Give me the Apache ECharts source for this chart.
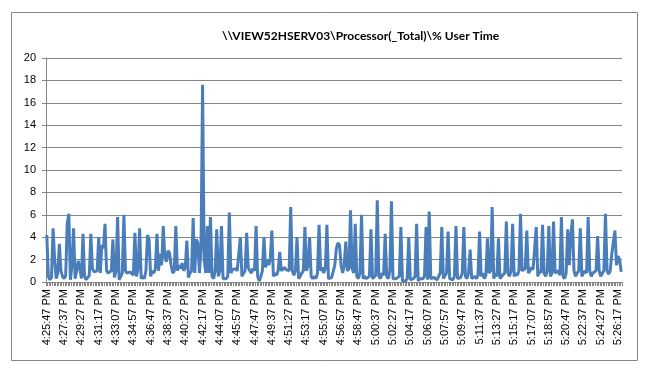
<!DOCTYPE html>
<html>
<head>
<meta charset="utf-8">
<script src="https://cdn.jsdelivr.net/npm/echarts@6/dist/echarts.min.js"></script>
<style>
  html, body { margin: 0; padding: 0; background: #fff; }
  #chart { width: 650px; height: 376px; }
</style>
</head>
<body>
<div id="chart"></div>
<script>
// samples taken every 10 seconds starting at 4:25:47 PM
var startTime = [16, 25, 47];
var stepSeconds = 10;

var userTime = [
  4.2, 0.5, 0.2, 0.4, 4.8, 2.0, 0.3, 0.8, 3.4, 1.0,
  0.5, 0.3, 0.6, 5.2, 6.1, 0.2, 1.5, 4.8, 0.3, 1.0,
  1.9, 1.2, 0.3, 4.3, 0.5, 0.2, 0.3, 0.6, 4.3, 1.2,
  0.9, 0.8, 1.0, 4.0, 0.8, 3.3, 3.0, 5.2, 1.0, 0.8,
  0.7, 1.0, 3.8, 0.4, 1.0, 5.8, 0.2, 0.3, 0.8, 6.0,
  1.0, 0.8, 0.7, 0.9, 1.0, 0.6, 4.4, 0.5, 1.2, 4.8,
  0.3, 0.5, 0.3, 1.0, 4.2, 3.8, 0.5, 1.0, 0.8, 1.2,
  4.3, 1.0, 2.5, 1.5, 5.0, 2.3, 1.8, 2.8, 2.6, 1.5,
  0.8, 1.0, 5.0, 1.0, 1.5, 1.2, 1.7, 1.0, 1.3, 3.7,
  0.4, 0.8, 1.0, 5.7, 0.8, 3.8, 3.5, 0.8, 3.0, 17.6,
  2.0, 0.8, 5.0, 0.8, 5.8, 0.5, 0.3, 1.0, 4.7, 0.5,
  1.0, 5.0, 0.3, 0.2, 0.3, 0.5, 6.2, 0.8, 1.1, 1.0,
  1.2, 1.0, 1.1, 4.0, 0.5, 0.8, 1.0, 4.4, 1.3, 1.0,
  0.8, 1.2, 1.0, 5.0, 0.5, 0.1, 0.5, 1.0, 4.0, 1.3,
  2.0, 1.5, 2.0, 4.6, 0.5, 0.8, 0.6, 1.0, 2.7, 1.0,
  0.9, 1.3, 1.1, 1.2, 1.0, 6.7, 1.0, 0.6, 1.0, 4.0,
  0.3, 0.5, 0.8, 1.0, 4.9, 1.0, 1.5, 4.0, 0.5, 0.3,
  0.5, 0.3, 0.8, 5.1, 1.0, 1.3, 0.8, 1.2, 5.1, 0.3,
  0.2, 0.4, 0.3, 1.5, 3.0, 3.5, 3.3, 1.5, 0.8, 1.5,
  3.6, 1.0, 1.2, 6.4, 1.2, 0.8, 5.2, 0.5, 0.3, 0.8,
  6.0, 0.3, 0.5, 0.3, 0.2, 0.5, 4.7, 0.3, 0.2, 0.6,
  7.3, 0.5, 0.3, 0.8, 0.6, 4.3, 0.5, 0.3, 1.0, 7.2,
  0.3, 0.2, 0.3, 0.2, 0.5, 4.9, 0.1, 0.2, 0.1, 0.3,
  4.0, 0.2, 0.1, 0.3, 0.5, 5.2, 0.1, 0.3, 0.2, 0.3,
  0.5, 4.9, 0.2, 6.3, 0.3, 0.2, 0.4, 0.3, 0.2, 0.5,
  0.8, 4.9, 0.3, 0.2, 0.8, 4.5, 0.3, 0.4, 0.2, 0.5,
  5.0, 0.3, 0.2, 0.4, 0.8, 4.9, 0.5, 0.3, 0.8, 2.9,
  0.3, 0.4, 0.5, 0.3, 0.6, 4.5, 0.5, 0.8, 0.3, 0.6,
  3.9, 0.8, 1.0, 6.7, 0.3, 0.8, 0.5, 3.9, 0.3, 0.5,
  0.4, 0.8, 5.4, 0.8, 0.5, 1.0, 5.2, 0.5, 0.8, 0.6,
  1.0, 6.1, 1.0, 1.0, 1.2, 4.6, 0.8, 1.0, 1.3, 1.1,
  1.0, 4.9, 0.5, 1.0, 0.8, 5.1, 0.8, 0.5, 1.0, 5.0,
  0.5, 0.8, 5.4, 0.8, 0.8, 1.0, 0.6, 5.8, 0.5, 0.3,
  0.8, 4.7, 1.5, 4.2, 5.6, 1.0, 0.5, 0.8, 1.0, 4.8,
  0.5, 0.8, 1.0, 0.8, 5.8, 1.0, 0.5, 0.8, 0.7, 1.0,
  4.1, 1.0, 0.5, 0.8, 1.0, 6.1, 1.0, 0.7, 1.0, 2.5,
  2.4, 4.6, 1.5, 2.3, 2.0, 0.9
];

function pad(n) { return n < 10 ? '0' + n : '' + n; }

var times = [];
for (var i = 0; i < userTime.length; i++) {
  var s = startTime[0] * 3600 + startTime[1] * 60 + startTime[2] + i * stepSeconds;
  var h = Math.floor(s / 3600), m = Math.floor(s / 60) % 60, sec = s % 60;
  var h12 = h % 12 === 0 ? 12 : h % 12;
  times.push(h12 + ':' + pad(m) + ':' + pad(sec) + (h >= 12 ? ' PM' : ' AM'));
}

var myChart = echarts.init(document.getElementById('chart'));
myChart.setOption({
  backgroundColor: '#fff',
  animation: false,
  title: {
    text: '\\\\VIEW52HSERV03\\Processor(_Total)\\% User Time',
    left: 217,
    top: 25,
    textStyle: { fontFamily: 'Lato', fontWeight: 'bold', fontSize: 12, color: '#000' }
  },
  graphic: [{
    type: 'rect',
    shape: { x: 11.5, y: 12.5, width: 626, height: 348 },
    style: { fill: 'none', stroke: '#868686', lineWidth: 1 },
    silent: true
  }],
  grid: { left: 46, right: 28, top: 58, bottom: 94 },
  xAxis: {
    type: 'category',
    data: times,
    boundaryGap: true,
    axisLine: { lineStyle: { color: '#868686' } },
    axisTick: { show: true, interval: 0, length: 4, lineStyle: { color: '#868686' } },
    axisLabel: {
      interval: 10,
      rotate: 90,
      margin: 7,
      fontSize: 11,
      fontFamily: 'Liberation Sans',
      color: '#000'
    }
  },
  yAxis: {
    type: 'value',
    min: 0,
    max: 20,
    interval: 2,
    axisLine: { show: true, lineStyle: { color: '#868686' } },
    axisTick: { show: true, length: 4, lineStyle: { color: '#868686' } },
    axisLabel: { margin: 10, fontSize: 11, fontFamily: 'Liberation Sans', color: '#000' },
    splitLine: { lineStyle: { color: '#868686' } }
  },
  series: [{
    type: 'line',
    data: userTime,
    showSymbol: false,
    lineStyle: { color: '#4A7EBB', width: 3 },
    itemStyle: { color: '#4A7EBB' }
  }]
});
</script>
</body>
</html>
